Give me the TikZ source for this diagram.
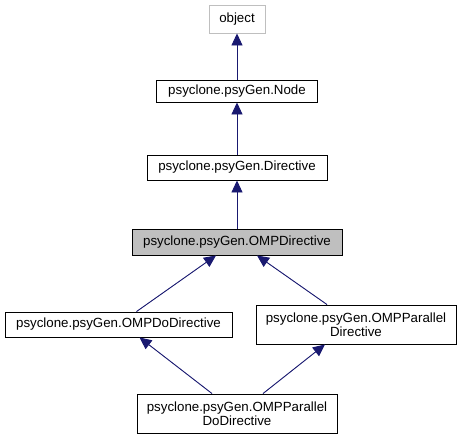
\documentclass[tikz,border=0pt]{standalone}
\usepackage{fontspec}
\setmainfont{Liberation Sans}
\usetikzlibrary{arrows.meta}
\definecolor{edgeblue}{HTML}{191970}
\definecolor{boxgrey}{HTML}{BFBFBF}
\begin{document}
\begin{tikzpicture}[x=1pt,y=-1pt,
  cls/.style={draw=black,line width=0.9pt,fill=white,inner sep=0pt,align=center,
    font=\fontsize{13.3}{13.5}\selectfont},
  inh/.style={draw=edgeblue,line width=0.9pt,-{Triangle[length=12pt,width=11pt]},fill=edgeblue}]
\useasboundingbox (0,0) rectangle (461,440);
\node[cls,draw=boxgrey,minimum width=56pt,minimum height=28pt] (obj) at (237,19) {object};
\node[cls,minimum width=161pt,minimum height=22pt] (node) at (237,91) {psyclone.psyGen.Node};
\node[cls,minimum width=180pt,minimum height=25pt] (dir) at (237,167.5) {psyclone.psyGen.Directive};
\node[cls,fill=boxgrey,minimum width=210pt,minimum height=26pt] (omp) at (237,242) {psyclone.psyGen.OMPDirective};
\node[cls,minimum width=227pt,minimum height=25pt] (ompdo) at (118.5,324.5) {psyclone.psyGen.OMPDoDirective};
\node[cls,minimum width=200pt,minimum height=39pt] (ompp) at (356,324.5) {psyclone.psyGen.OMPParallel\\Directive};
\node[cls,minimum width=200pt,minimum height=39pt] (omppd) at (237,413.5) {psyclone.psyGen.OMPParallel\\DoDirective};
\draw[inh] (node) -- (obj);
\draw[inh] (dir) -- (node);
\draw[inh] (omp) -- (dir);
\draw[inh] ([xshift=18pt]ompdo.north) -- ([xshift=-21pt]omp.south);
\draw[inh] ([xshift=-29pt]ompp.north) -- ([xshift=20pt]omp.south);
\draw[inh] ([xshift=-25pt]omppd.north) -- ([xshift=21pt]ompdo.south);
\draw[inh] ([xshift=26pt]omppd.north) -- ([xshift=-31pt]ompp.south);
\end{tikzpicture}
\end{document}
